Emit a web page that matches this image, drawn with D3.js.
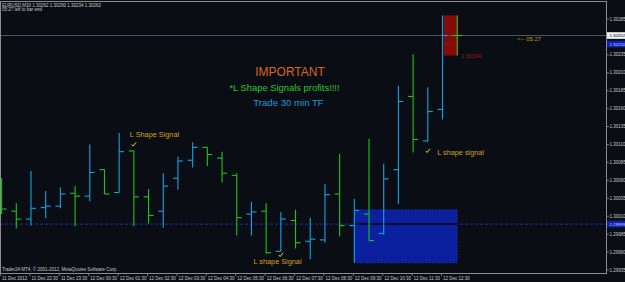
<!DOCTYPE html>
<html lang="en">
<head>
  <meta charset="UTF-8" />
  <title>EURUSD M30 - L Shape Signals</title>
  <script src="https://d3js.org/d3.v7.min.js"></script>
  <style>
    body { margin:0; padding:0; background:#0a0e14; overflow:hidden; }
    svg { display:block; font-family:"Liberation Sans", Arial, sans-serif; }
    .small { font-size:4.5px; fill:#c8c8c8; }
  </style>
</head>
<body>
  <svg width="625" height="282"></svg>

  <script>
  (function(){
    // 30 min bars, 11 Dec 21:30 .. 12 Dec 13:00
    const opens  = [1.30050,1.30017,1.30006,1.30022,1.30024,1.30042,1.30038,1.30075,1.30043,1.30101,1.30037,1.30017,1.30063,1.30088,1.30106,1.30091,
                    1.30067,1.30013,1.30017,1.29961,1.30004,1.29975,1.29977,1.30041,1.29997,1.30013,1.29986,1.30075,1.30177,1.30115,1.30159,1.30262];
    const highs  = [1.30063,1.30028,1.30073,1.30045,1.30050,1.30052,1.30110,1.30075,1.30126,1.30101,1.30048,1.30070,1.30093,1.30113,1.30106,1.30100,
                    1.30070,1.30030,1.30028,1.30016,1.30019,1.30008,1.30055,1.30097,1.30034,1.30118,1.30083,1.30192,1.30236,1.30190,1.30290,1.30290];
    const lows   = [1.30013,1.29993,1.29997,1.30007,1.30021,1.29996,1.30031,1.30041,1.30043,1.29996,1.30000,1.29994,1.30047,1.30078,1.30080,1.30057,
                    1.29983,1.29983,1.29958,1.29961,1.29965,1.29950,1.29973,1.29982,1.29945,1.29976,1.29984,1.30027,1.30099,1.30114,1.30145,1.30234];
    const closes = [1.30020,1.30006,1.30021,1.30024,1.30041,1.30038,1.30071,1.30041,1.30100,1.30037,1.30011,1.30052,1.30087,1.30106,1.30096,1.30070,
                    1.30008,1.30016,1.29959,1.30006,1.29973,1.29978,1.30040,1.29997,1.30018,1.29976,1.30062,1.30170,1.30117,1.30156,1.30262,1.30262];

    const timeTickBars   = [0,2,4,6,8,10,12,14,16,18,20,22,24,26,28,30];
    const timeTickLabels = ["11 Dec 2012","11 Dec 22:30","11 Dec 23:30","12 Dec 00:30","12 Dec 01:30","12 Dec 02:30","12 Dec 03:30","12 Dec 04:30",
                            "12 Dec 05:30","12 Dec 06:30","12 Dec 07:30","12 Dec 08:30","12 Dec 09:30","12 Dec 10:30","12 Dec 11:30","12 Dec 12:30"];
    const priceTicks = [1.29935,1.29960,1.29985,1.30010,1.30035,1.30060,1.30085,1.30110,1.30135,1.30160,1.30185,1.30210,1.30235,1.30260,1.30285];

    const bidPrice = 1.30262, askPrice = 1.30250, levelPrice = 1.29999;
    // drawn objects: [fromBar, toBar, top, bottom]
    const blueZone = [24, 31, 1.30019, 1.29945];
    const redZone  = [30, 31, 1.30290, 1.30234];
    // L shape signals: bar, price of the tick mark, text
    const signalBars   = [9, 19, 29];
    const signalPrices = [1.30110, 1.29956, 1.30101];
    const signalTexts  = ["L Shape Signal", "L shape Signal", "L shape signal"];

    const W = 606, TOP = 1, BOT = 273;
    const svg = d3.select("svg");
    const x = d3.scaleLinear().domain([0, 31]).range([1.6, 457.2]);
    const y = d3.scaleLinear().domain([1.29935, 1.30285]).range([270, 19]);

    const UP = "#14a2e6", DOWN = "#1cc41c";
    const bars = d3.range(opens.length).map(i => ({i, o:opens[i], h:highs[i], l:lows[i], c:closes[i]}));

    const clip = svg.append("clipPath").attr("id","plot").append("rect")
      .attr("x", 0).attr("y", TOP).attr("width", W).attr("height", BOT - TOP);
    const g = svg.append("g").attr("clip-path","url(#plot)");

    // blue rectangle zone
    g.append("rect")
      .attr("x", x(blueZone[0])).attr("y", y(blueZone[2]))
      .attr("width", x(blueZone[1]) - x(blueZone[0])).attr("height", y(blueZone[3]) - y(blueZone[2]))
      .attr("fill", "#0b209e");
    g.append("rect")
      .attr("x", x(blueZone[0])).attr("y", y(blueZone[2]))
      .attr("width", x(blueZone[1]) - x(blueZone[0])).attr("height", y(blueZone[3]) - y(blueZone[2]))
      .attr("fill", "none").attr("stroke", "#2a44c8").attr("stroke-width", 0.8).attr("stroke-dasharray", "1,2");

    // level line (dashed) and the dark cut through the zone
    g.append("line").attr("x1", 0).attr("x2", W).attr("y1", y(levelPrice)).attr("y2", y(levelPrice))
      .attr("stroke", "#1a2eb0").attr("stroke-width", 1).attr("stroke-dasharray", "3,2");
    g.append("line").attr("x1", x(blueZone[0])).attr("x2", x(blueZone[1])).attr("y1", y(levelPrice)).attr("y2", y(levelPrice))
      .attr("stroke", "#0a0e2c").attr("stroke-width", 2);

    // red rectangle
    g.append("rect")
      .attr("x", x(redZone[0]) + 1).attr("y", y(redZone[2]))
      .attr("width", x(redZone[1]) - x(redZone[0])).attr("height", y(redZone[3]) - y(redZone[2]))
      .attr("fill", "#850a0a");
    g.append("line").attr("x1", x(redZone[0]) + 2).attr("x2", x(redZone[1])).attr("y1", y(askPrice)).attr("y2", y(askPrice))
      .attr("stroke", "#b02020").attr("stroke-width", 0.8).attr("stroke-dasharray", "1,2");

    // bid line
    g.append("line").attr("x1", 0).attr("x2", W).attr("y1", y(bidPrice)).attr("y2", y(bidPrice))
      .attr("stroke", "#4a5560").attr("stroke-width", 1);

    // OHLC bars
    const bg = g.selectAll(".bar").data(bars).enter().append("g").attr("class","bar")
      .attr("stroke", d => d.c > d.o ? UP : DOWN).attr("stroke-width", 1.1);
    bg.append("line").attr("x1", d => x(d.i)).attr("x2", d => x(d.i)).attr("y1", d => y(d.h)).attr("y2", d => y(d.l));
    bg.append("line").attr("x1", d => x(d.i) - 5).attr("x2", d => x(d.i)).attr("y1", d => y(d.o)).attr("y2", d => y(d.o));
    bg.append("line").attr("x1", d => x(d.i)).attr("x2", d => x(d.i) + 5).attr("y1", d => y(d.c)).attr("y2", d => y(d.c));

    // signals
    signalBars.forEach((b, k) => {
      const cx = x(b), cy = y(signalPrices[k]);
      g.append("path").attr("d", `M${cx-2},${cy} L${cx-0.7},${cy+1.6} L${cx+2.2},${cy-2.2}`)
        .attr("fill","none").attr("stroke","#e2d21e").attr("stroke-width",1);
      const off = k === 0 ? [-4, -8] : k === 1 ? [-27.3, 9] : [9.4, 4];
      g.append("text").attr("x", cx + off[0]).attr("y", cy + off[1])
        .attr("font-size", 7.3).attr("fill", "#d2a018").text(signalTexts[k]);
    });

    // headline text
    g.append("text").attr("x", 290).attr("y", 75.5).attr("text-anchor","middle")
      .attr("font-size", 12).attr("fill", "#dc661c").text("IMPORTANT");
    g.append("text").attr("x", 284.5).attr("y", 91).attr("text-anchor","middle")
      .attr("font-size", 9.4).attr("fill", "#2ec42e").text("*L Shape Signals profits!!!!");
    g.append("text").attr("x", 288.5).attr("y", 105.5).attr("text-anchor","middle")
      .attr("font-size", 9.6).attr("fill", "#1e98dc").text("Trade 30 min TF");

    // red label and bar timer
    g.append("text").attr("x", x(redZone[1]) + 4).attr("y", y(redZone[3]) + 2.5)
      .attr("font-size", 5.5).attr("fill", "#a01212").text("1.30234");
    g.append("text").attr("x", 517).attr("y", y(bidPrice) + 6)
      .attr("font-size", 6).attr("fill", "#c8901e").text("<-- 05:27");

    // info lines
    svg.append("text").attr("class","small").attr("x", 2).attr("y", 6.6).attr("font-size", 4.3)
      .text("EURUSD,M30  1.30262 1.30290 1.30234 1.30262");
    svg.append("text").attr("class","small").attr("x", 2).attr("y", 11.2).attr("font-size", 4.3)
      .text("05:27 left to bar end");
    svg.append("text").attr("class","small").attr("x", 2).attr("y", 271.3).attr("font-size", 4.6)
      .text("Trader24 MT4, \u00a9 2001-2012, MetaQuotes Software Corp.");

    // frame
    svg.append("rect").attr("x", 0.5).attr("y", TOP + 0.5).attr("width", W).attr("height", BOT - TOP)
      .attr("fill","none").attr("stroke","#8c8c8c").attr("stroke-width",1);

    // price axis
    const ya = svg.append("g");
    ya.selectAll("line").data(priceTicks).enter().append("line")
      .attr("x1", W + 0.5).attr("x2", W + 3).attr("y1", d => y(d)).attr("y2", d => y(d))
      .attr("stroke","#8c8c8c").attr("stroke-width",0.8);
    ya.selectAll("text").data(priceTicks).enter().append("text").attr("class","small")
      .attr("x", W + 3.5).attr("y", d => y(d) + 1.6).attr("font-size", 4.3)
      .text(d => d.toFixed(5));

    // price boxes
    [[bidPrice, "#f0f0f0", "#000"], [askPrice, "#0c22b4", "#d0d0ff"], [levelPrice, "#0c22b4", "#d0d0ff"]].forEach(b => {
      const yy = y(b[0]);
      svg.append("rect").attr("x", W + 1).attr("y", yy - 3.3).attr("width", 625 - W).attr("height", 6.6).attr("fill", b[1]);
      svg.append("text").attr("x", W + 3.5).attr("y", yy + 1.6).attr("font-size", 4.3).attr("fill", b[2]).text(b[0].toFixed(5));
    });

    // time axis
    const xa = svg.append("g");
    xa.selectAll("line").data(timeTickBars).enter().append("line")
      .attr("x1", d => x(d) - 1).attr("x2", d => x(d) - 1).attr("y1", BOT).attr("y2", BOT + 3)
      .attr("stroke","#8c8c8c").attr("stroke-width",0.8);
    xa.selectAll("text").data(timeTickLabels).enter().append("text").attr("class","small")
      .attr("x", (d, k) => k === 0 ? 2 : x(timeTickBars[k]) + 0.5).attr("y", 279.8)
      .text(d => d);
  })();
  </script>
</body>
</html>
